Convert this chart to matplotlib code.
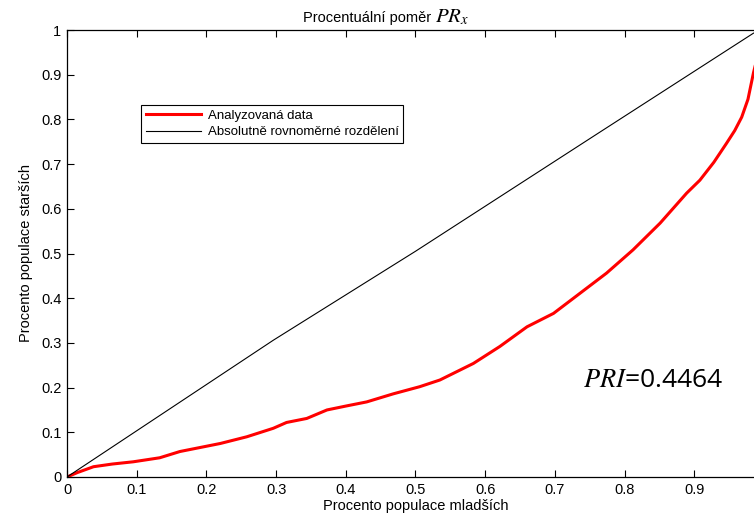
import matplotlib
matplotlib.use("Agg")
import matplotlib.pyplot as plt

plt.rcParams['font.family'] = ['Liberation Sans', 'DejaVu Sans']
plt.rcParams['mathtext.fontset'] = 'stix'

# Cumulative share of the older population vs. share of the younger population
x_data = [0.0, 0.015, 0.038, 0.065, 0.095, 0.133, 0.162, 0.191, 0.220, 0.258, 0.296,
          0.315, 0.344, 0.373, 0.401, 0.430, 0.468, 0.506, 0.535, 0.583, 0.621,
          0.660, 0.698, 0.736, 0.774, 0.812, 0.851, 0.889, 0.908, 0.928, 0.946,
          0.958, 0.968, 0.977, 0.985, 1.0]
y_data = [0.0, 0.010, 0.023, 0.029, 0.034, 0.043, 0.057, 0.066, 0.075, 0.090, 0.109,
          0.122, 0.131, 0.150, 0.159, 0.168, 0.186, 0.202, 0.217, 0.254, 0.292,
          0.336, 0.366, 0.411, 0.456, 0.508, 0.568, 0.635, 0.664, 0.704, 0.746,
          0.775, 0.805, 0.845, 0.905, 1.0]

# Perfectly uniform distribution
x_uniform = [0.0, 0.296, 0.5, 0.765, 0.985, 1.0]
y_uniform = [0.0, 0.306, 0.505, 0.772, 0.993, 1.0]

x_ticks = [0, 0.1, 0.2, 0.3, 0.4, 0.5, 0.6, 0.7, 0.8, 0.9]
y_ticks = [0, 0.1, 0.2, 0.3, 0.4, 0.5, 0.6, 0.7, 0.8, 0.9, 1]
pri_value = 0.4464

fig = plt.figure(figsize=(7.54, 5.22), dpi=100)
ax = fig.add_axes([67/754, 45/522, 697/754, 447/522])

ax.plot(x_data, y_data, color='#ff0000', lw=2.2, label='Analyzovaná data')
ax.plot(x_uniform, y_uniform, color='black', lw=0.8, label='Absolutně rovnoměrné rozdělení')

ax.set_xlim(0, 1)
ax.set_ylim(0, 1)
ax.set_xticks(x_ticks)
ax.set_xticklabels([f'{t:g}' for t in x_ticks])
ax.set_yticks(y_ticks)
ax.set_yticklabels([f'{t:g}' for t in y_ticks])
ax.tick_params(direction='in', top=True, right=True, labelsize=10.5, length=5, width=0.8, pad=4)
for s in ax.spines.values():
    s.set_linewidth(0.9)

ax.set_xlabel('Procento populace mladších', fontsize=10.5, labelpad=2)
ax.set_ylabel('Procento populace starších', fontsize=10.5, labelpad=6)

# Title: plain text followed by a larger math symbol
ax.text(0.523, 1.0 + 8/447, 'Procentuální poměr', transform=ax.transAxes,
        ha='right', va='baseline', fontsize=10.5)
ax.text(0.528, 1.0 + 8/447, '$PR_x$', transform=ax.transAxes,
        ha='left', va='baseline', fontsize=15)

leg = ax.legend(loc='upper left', bbox_to_anchor=(0.106, 0.832), fontsize=9.5,
                frameon=True, fancybox=False, edgecolor='black', framealpha=1,
                handlelength=4.2, borderpad=0.35, labelspacing=0.3, handletextpad=0.5,
                borderaxespad=0)
leg.get_frame().set_linewidth(0.8)

ax.text(0.74, 0.217, r'$PRI$' + f'={pri_value}', fontsize=19, va='center', ha='left',
        family=['Open Sans', 'DejaVu Sans'])

fig.savefig('out.png', dpi=100)
